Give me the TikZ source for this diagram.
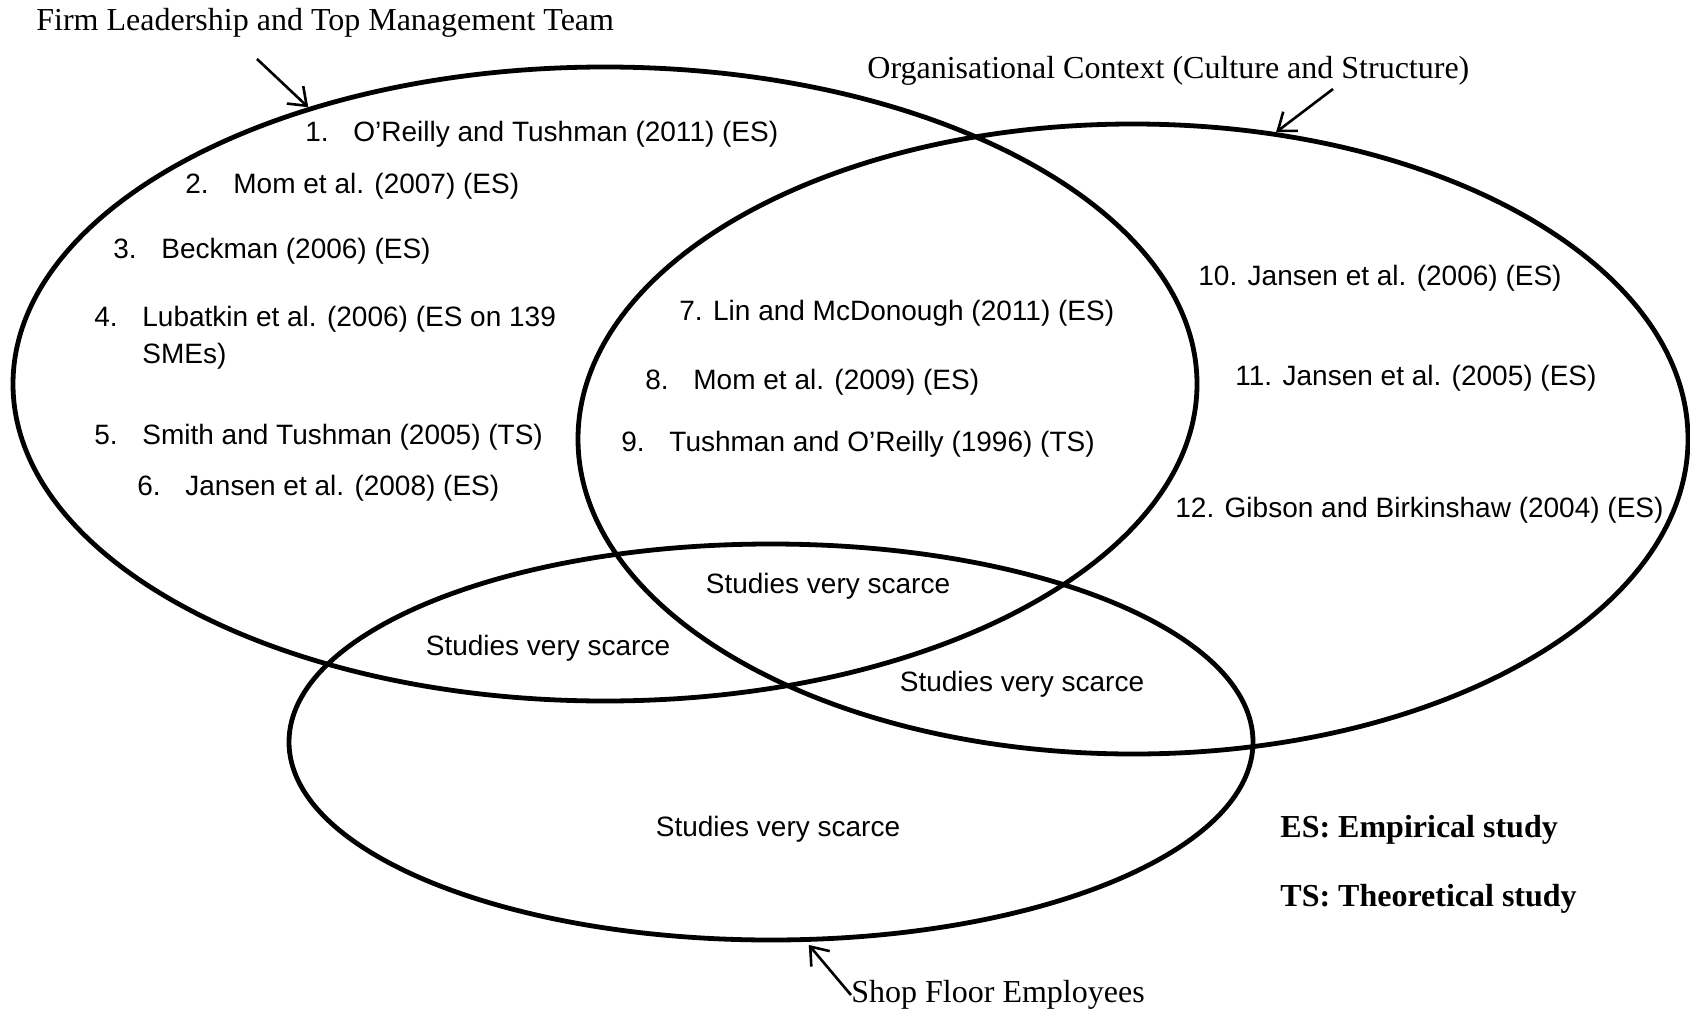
\documentclass[tikz,border=0pt]{standalone}
\usepackage{fontspec}
\setmainfont{Liberation Serif}
\newfontfamily\arialf{Liberation Sans}
\usetikzlibrary{arrows.meta,shapes.geometric}
\newcommand\numitem[2]{\makebox[24pt][l]{#1}#2}
\begin{document}
\begin{tikzpicture}[x=0.5pt,y=-0.5pt,
  venn/.style={ellipse, draw, line width=2.4pt, inner sep=0pt},
  lbl/.style={font=\fontsize{16}{19}\selectfont, inner sep=0pt, anchor=west, yshift=-1.5pt},
  item/.style={font=\arialf\fontsize{14}{18.5}\selectfont, inner sep=0pt, anchor=west, align=left, yshift=-1.5pt},
  scarce/.style={font=\arialf\fontsize{14}{17}\selectfont, inner sep=0pt, yshift=-1.5pt},
  key/.style={font=\bfseries\fontsize{16}{19}\selectfont, inner sep=0pt, anchor=west, yshift=-1.5pt},
  pointer/.style={-{Straight Barb[length=8pt,width=12pt]}, line width=1.3pt}]
\useasboundingbox (0,0) rectangle (1690,1011);
% sets
\node[venn, minimum width=592pt, minimum height=317pt] (firm) at (605,384) {};
\node[venn, minimum width=555pt, minimum height=315pt] (org) at (1133,439) {};
\node[venn, minimum width=482pt, minimum height=198pt] (shop) at (771,742) {};
% set labels
\node[lbl] (firmlbl) at (36,20) {Firm Leadership and Top Management Team};
\node[lbl] (orglbl) at (867,68) {Organisational Context (Culture and Structure)};
\node[lbl] (shoplbl) at (851,992) {Shop Floor Employees};
\coordinate (firmtail) at (257,59);
\coordinate (orgtail) at (1333,89);
\draw[pointer] (firmtail) -- (firm.137.7);
\draw[pointer] (orgtail) -- (org.65.5);
\draw[pointer, shorten >=2pt] (shoplbl.west) -- (shop.280.7);
% studies: leadership
\node[item] (s1) at (305,131) {\numitem{1.}{O’Reilly and Tushman (2011) (ES)}};
\node[item] (s2) at (185,183) {\numitem{2.}{Mom et al. (2007) (ES)}};
\node[item] (s3) at (113,248) {\numitem{3.}{Beckman (2006) (ES)}};
\node[item] (s4) at (94,334.5) {\numitem{4.}{Lubatkin et al. (2006) (ES on 139}\\\hspace*{24pt}SMEs)};
\node[item] (s5) at (94,434) {\numitem{5.}{Smith and Tushman (2005) (TS)}};
\node[item] (s6) at (137,485) {\numitem{6.}{Jansen et al. (2008) (ES)}};
% studies: leadership and context
\node[item] (s7) at (679,310) {7. Lin and McDonough (2011) (ES)};
\node[item] (s8) at (645,379) {\numitem{8.}{Mom et al. (2009) (ES)}};
\node[item] (s9) at (621,441) {\numitem{9.}{Tushman and O’Reilly (1996) (TS)}};
% studies: context
\node[item] (s10) at (1198,275) {10. Jansen et al. (2006) (ES)};
\node[item] (s11) at (1235,375) {11. Jansen et al. (2005) (ES)};
\node[item] (s12) at (1175,507) {12. Gibson and Birkinshaw (2004) (ES)};
% scarce regions
\node[scarce] (sc1) at (828,583) {Studies very scarce};
\node[scarce] (sc2) at (548,645) {Studies very scarce};
\node[scarce] (sc3) at (1022,681) {Studies very scarce};
\node[scarce] (sc4) at (778,826) {Studies very scarce};
% key
\node[key] (k1) at (1280,827) {ES: Empirical study};
\node[key] (k2) at (1280,896) {TS: Theoretical study};
\end{tikzpicture}
\end{document}
